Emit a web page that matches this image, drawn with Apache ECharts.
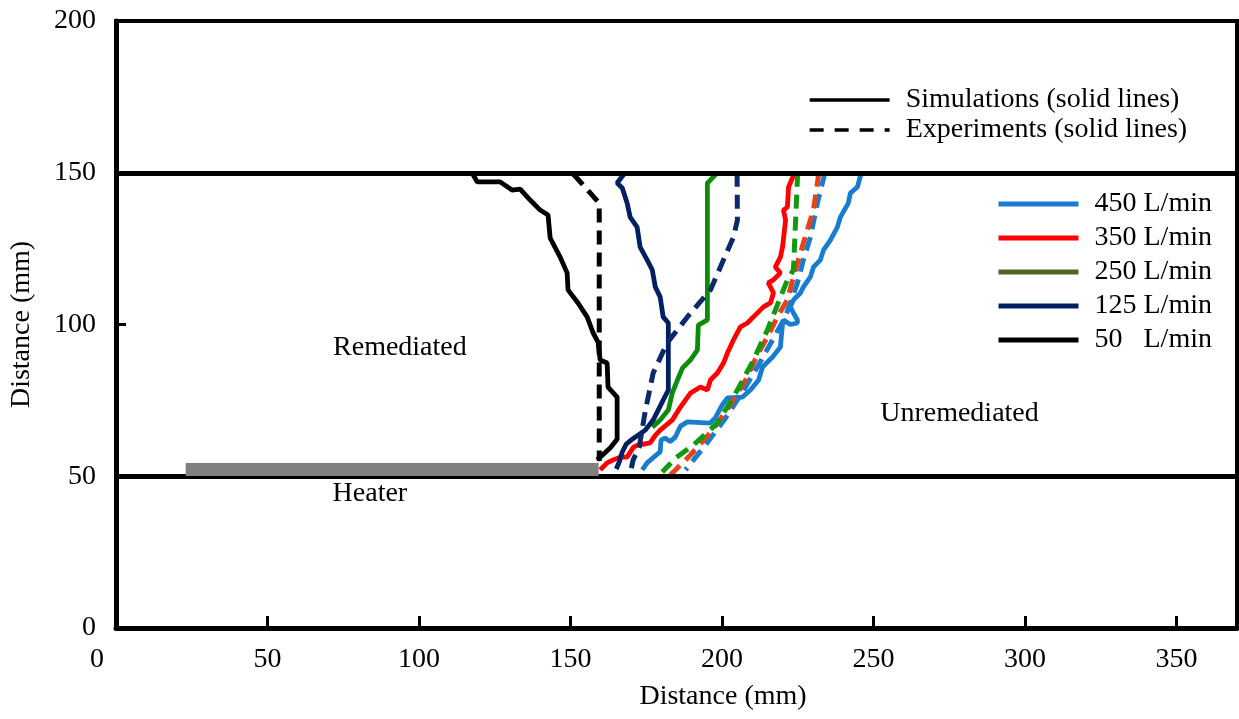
<!DOCTYPE html>
<html>
<head>
<meta charset="utf-8">
<script src="https://cdn.jsdelivr.net/npm/echarts@6/dist/echarts.min.js"></script>
<style>
  html, body { margin: 0; padding: 0; background: #fff; }
  #chart { width: 1239px; height: 719px; }
</style>
</head>
<body>
<div id="chart"></div>
<script>
const FONT = 'Liberation Serif'

// flow rates, legend order
const flowNames = ['450 L/min', '350 L/min', '250 L/min', '125 L/min', '50   L/min']
const flowColors = ['#1a7ccf', '#ff0000', '#0b8c0b', '#002060', '#000000']
const expColors = ['#1a7ccf', '#e5431c', '#119a11', '#0a2a6a', '#000000']

// simulated remediation fronts [x mm, y mm]
const sim450 = [[246, 150], [244.7, 145.3], [242.4, 143.3], [241.7, 140], [239.1, 135.4], [238.1, 132.1], [235.8, 127.8], [233.5, 124.5], [232.5, 121.3], [230.2, 118.9], [229.2, 115.7], [226.9, 112.4], [225.9, 110.4], [223.6, 108.1], [222.6, 105.8], [223.6, 103.8], [224.9, 101.5], [224.9, 100.5], [222.6, 100], [220.3, 101.5], [219.9, 99.2], [219.3, 92.6], [216.7, 89.3], [213.4, 86], [212.1, 81.7], [209.4, 78.4], [206.8, 76.1], [201.8, 75.8], [200.1, 73.5], [197.8, 69.2], [196.1, 67.5], [188.6, 67.9], [186.3, 66.5], [184.6, 62.9], [182.9, 61.4], [181.2, 62.6], [179.9, 61.9], [179.6, 58], [177.6, 56.4], [175.3, 54.4], [173.7, 52.1]]
const sim350 = [[224, 150], [222, 145.3], [221.6, 138.7], [220.3, 137.7], [221, 134.4], [220, 125.5], [219.3, 122.2], [217.6, 118.9], [219.3, 117], [217, 114.7], [215.3, 113.7], [217, 110.4], [216, 107.1], [213.7, 105.8], [210.4, 102.5], [208.4, 100.5], [206.1, 99.2], [203.8, 94.9], [201.8, 90.6], [200.5, 87.3], [198.5, 84], [196.2, 81.7], [195.2, 78.4], [192.9, 79.4], [189.6, 77.4], [186.3, 72.8], [183.6, 68.5], [179.6, 65.2], [178, 63.5], [176.3, 61], [172, 60.2], [170.8, 59.6], [168.7, 56.3], [166.4, 56.3], [164.1, 55.4], [162.1, 54.4], [159.8, 52.1]]
const sim250 = [[198.5, 150], [195.2, 146.6], [195.2, 101.5], [192.2, 99.8], [191.9, 91.6], [189.6, 88.3], [187, 85.7], [185.3, 81.7], [183.6, 77.4], [182.3, 71.8], [179.6, 68.5], [177, 66.2]]
const sim125 = [[168, 150], [165.4, 146.6], [167.1, 145], [168.7, 140], [169.7, 135.4], [172, 132.1], [173, 125.5], [175.3, 121.3], [177, 118], [178, 112.4], [179.6, 109.1], [180.6, 102.5], [182.3, 100.5], [182.3, 78.4], [180.6, 75.1], [177.3, 68.5], [174.7, 65.2], [170.4, 62.2], [168.4, 60.6], [167.1, 58], [166.1, 54.7], [165.1, 52.4]]
const sim50 = [[117.8, 149.5], [119.2, 147], [126.8, 147], [130.7, 144.3], [133.4, 144.6], [136.7, 141], [140, 137.7], [142.6, 136.1], [143.3, 128.5], [146.6, 122.2], [148.9, 117], [149.2, 111.4], [152.5, 107.1], [155.5, 102.5], [157.5, 97.2], [159.1, 94.2], [159.8, 88.3], [162.1, 87.3], [162.4, 79.4], [165.4, 76.1], [165.4, 62.2], [163.1, 59.3], [158.8, 55.4]]

// experimental fronts
const exp450 = [[234, 150], [231.5, 140], [229.2, 128.8], [226.9, 121.3], [224.9, 113.7], [222.6, 107.1], [220.9, 102.5], [216.7, 94.9], [212.1, 86.7], [206.8, 77.8], [201.2, 69.2], [194.6, 60.3], [188, 52.1]]
const exp350 = [[232, 150], [230.2, 137.7], [226.9, 126.9], [223.6, 115.7], [221.6, 108.1], [218.3, 102.5], [215, 95.9], [211.7, 90], [207.8, 81.7], [202.8, 73.5], [196.9, 65.2], [189.6, 57], [183, 50.4]]
const exp250 = [[225, 150], [223.6, 118], [221.6, 114.7], [215, 98.2], [210.4, 88.3], [205.1, 78.4], [198.5, 67.5], [190.6, 60.3], [185, 56.2], [180.3, 51.4]]
const exp125 = [[205, 150], [205.1, 134.4], [203.8, 128.8], [196.2, 111.4], [188.6, 102.5], [181.9, 93.9], [177.3, 84], [174.7, 71.5], [172.7, 59.6], [170.7, 55.4], [169.7, 51]]
const exp50 = [[151, 149.5], [159.5, 140], [159.5, 55]]

const simData = [sim450, sim350, sim250, sim125, sim50]
const expData = [exp450, exp350, exp250, exp125, exp50]

const heaterSpan = [[23, 52.2], [159.3, 52.2]]
const boundaryLevels = [50, 150]
const xTicks = [0, 50, 100, 150, 200, 250, 300, 350]

const notes = [
  { name: 'Remediated', value: [93.7, 92.3] },
  { name: 'Heater', value: [83.8, 44.2] },
  { name: 'Unremediated', value: [278.4, 70.5] },
]

const chart = echarts.init(document.getElementById('chart'))

const series = []
simData.forEach((d, i) => {
  series.push({
    name: flowNames[i],
    type: 'line',
    data: d,
    symbol: 'none',
    color: flowColors[i],
    lineStyle: { width: 4.8, color: flowColors[i] },
    z: 4,
  })
})
expData.forEach((d, i) => {
  series.push({
    name: flowNames[i],
    type: 'line',
    data: d,
    symbol: 'none',
    color: expColors[i],
    lineStyle: { width: 5, color: expColors[i], type: [14, 8] },
    z: 4,
  })
})
series.push({
  name: 'Simulations (solid lines)',
  type: 'line',
  data: [],
  symbol: 'none',
  color: '#000',
  lineStyle: { width: 3.3, color: '#000' },
})
series.push({
  name: 'Experiments (solid lines)',
  type: 'line',
  data: [],
  symbol: 'none',
  color: '#000',
  lineStyle: { width: 3.3, color: '#000', type: [14, 11] },
})
series.push({
  name: 'boundaries',
  type: 'line',
  data: [],
  markLine: {
    silent: true,
    symbol: ['none', 'none'],
    label: { show: false },
    lineStyle: { color: '#000', width: 5, type: 'solid' },
    data: boundaryLevels.map(v => ({ yAxis: v })),
  },
  z: 3,
})
series.push({
  name: 'heater',
  type: 'line',
  data: heaterSpan,
  symbol: 'none',
  lineStyle: { width: 13, color: '#808080', cap: 'butt' },
  z: 5,
})
series.push({
  name: 'notes',
  type: 'scatter',
  data: notes,
  symbolSize: 0,
  itemStyle: { opacity: 1 },
  label: {
    show: true,
    position: 'inside',
    formatter: p => p.name,
    fontFamily: FONT,
    fontSize: 28,
    color: '#000',
    opacity: 1,
  },
  z: 6,
})

const legendText = {
  fontFamily: FONT,
  fontSize: 28,
  color: '#000',
  lineHeight: 28,
  padding: [0, 0, 0, 11],
}

const option = {
  animation: false,
  backgroundColor: '#fff',
  grid: {
    left: 116,
    right: 2,
    top: 21,
    bottom: 91,
    show: true,
    borderColor: '#000',
    borderWidth: 4,
  },
  legend: [
    {
      orient: 'vertical',
      left: 808,
      top: 86,
      padding: 0,
      itemGap: 2,
      itemWidth: 80,
      itemHeight: 10,
      selectedMode: false,
      itemStyle: { opacity: 0 },
      lineStyle: { width: 3.3 },
      textStyle: legendText,
      data: ['Simulations (solid lines)', 'Experiments (solid lines)'],
    },
    {
      orient: 'vertical',
      left: 996,
      top: 190,
      padding: 0,
      itemGap: 6,
      itemWidth: 80,
      itemHeight: 10,
      selectedMode: false,
      itemStyle: { opacity: 0 },
      lineStyle: { width: 5 },
      textStyle: legendText,
      data: flowNames.map((n, i) => (i === 2 ? { name: n, lineStyle: { color: '#4f6228', width: 5 } } : { name: n })),
    },
  ],
  xAxis: {
    type: 'value',
    min: 0,
    max: 370,
    interval: 50,
    name: 'Distance (mm)',
    nameLocation: 'middle',
    nameGap: 55,
    nameTextStyle: { fontFamily: FONT, fontSize: 28, color: '#000', padding: [0, 0, 0, 93] },
    axisLine: { show: true, lineStyle: { color: '#000', width: 5 } },
    axisTick: { show: true, inside: true, length: 12, lineStyle: { color: '#000', width: 3 } },
    axisLabel: {
      fontFamily: FONT,
      fontSize: 28,
      color: '#000',
      margin: 18,
      showMaxLabel: false,
      formatter: v => (v === xTicks[0] ? '{z|' + v + '}' : String(v)),
      rich: { z: { fontFamily: FONT, fontSize: 28, color: '#000', padding: [0, 38, 0, 0] } },
    },
    splitLine: { show: false },
  },
  yAxis: {
    type: 'value',
    min: 0,
    max: 200,
    interval: 50,
    name: 'Distance (mm)',
    nameLocation: 'middle',
    nameGap: 80,
    nameTextStyle: { fontFamily: FONT, fontSize: 28, color: '#000' },
    axisLine: { show: true, lineStyle: { color: '#000', width: 5 } },
    axisTick: { show: true, inside: true, length: 10, lineStyle: { color: '#000', width: 3 } },
    axisLabel: { fontFamily: FONT, fontSize: 28, color: '#000', margin: 20 },
    splitLine: { show: false },
  },
  series: series,
}

chart.setOption(option)
</script>
</body>
</html>
